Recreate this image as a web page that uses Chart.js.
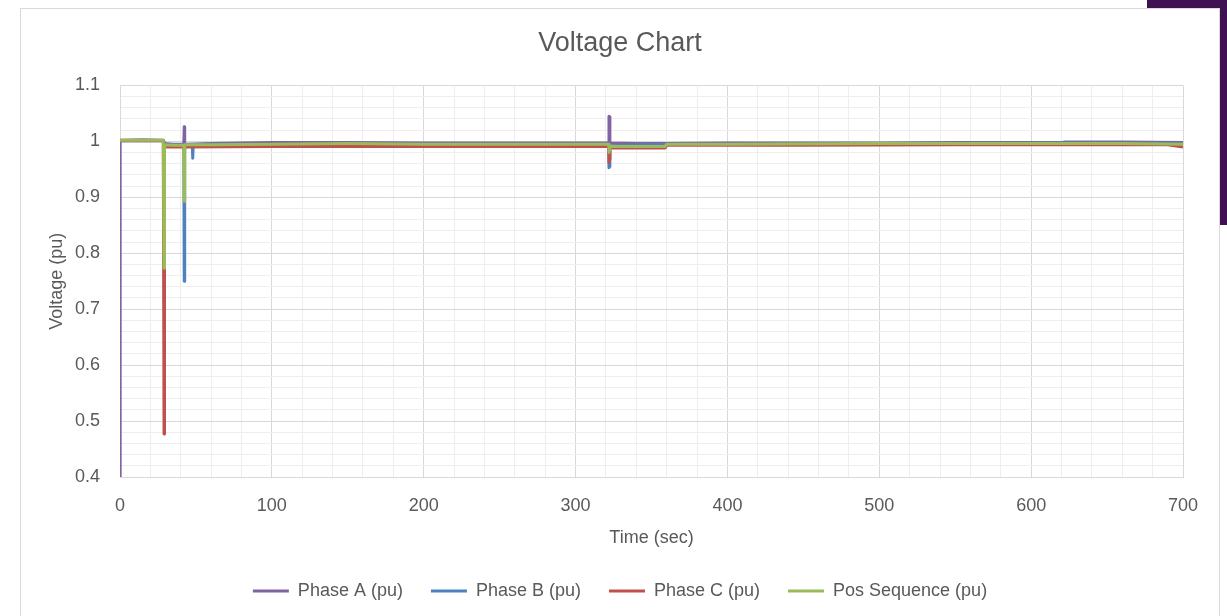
<!DOCTYPE html>
<html>
<head>
<meta charset="utf-8">
<script src="https://cdn.jsdelivr.net/npm/chart.js@4"></script>
<style>
  body { margin: 0; background: #fff; width: 1227px; height: 616px; overflow: hidden; position: relative; }
  #bg { position: absolute; left: 1147px; top: 0; width: 80px; height: 225px; background: #3f1153; }
  #box { position: absolute; left: 20px; top: 8px; width: 1200px; height: 620px; border: 1px solid #d9d9d9; background: #fff; box-sizing: border-box; }
  canvas { display: block; }
</style>
</head>
<body>
<div id="bg"></div>
<div id="box"><canvas id="myChart" width="1198" height="610"></canvas></div>
<script>
let labels = ['Phase A (pu)', 'Phase B (pu)', 'Phase C (pu)', 'Pos Sequence (pu)'];
let colorHex = ['#8064A2', '#4F81BD', '#C0504D', '#9BBB59'];

// time (sec) and voltage (pu)
let timeA = [0, 0.1, 15, 28.5, 29.5, 35, 42, 42.3, 42.6, 60, 100, 150, 200, 250, 300, 321.8, 322, 322.3, 322.6, 340, 360, 400, 450, 500, 550, 600, 621, 622, 660, 700];
let phaseA = [0.4, 1.002, 1.003, 1.002, 0.996, 0.995, 0.995, 1.026, 0.995, 0.996, 0.998, 0.998, 0.997, 0.997, 0.997, 0.997, 1.045, 1.044, 0.997, 0.996, 0.996, 0.997, 0.997, 0.997, 0.998, 0.998, 0.998, 0.999, 0.999, 0.998];

let timeB = [0, 28.5, 29.5, 42, 42.3, 42.6, 47.6, 47.9, 48.2, 60, 150, 250, 321.8, 322, 322.3, 322.6, 360, 450, 550, 621, 700];
let phaseB = [1.001, 1.001, 0.994, 0.994, 0.75, 0.994, 0.994, 0.970, 0.994, 0.995, 0.995, 0.995, 0.995, 0.953, 0.955, 0.992, 0.995, 0.995, 0.996, 0.997, 0.996];

let timeC = [0, 28.5, 29, 29.3, 42, 42.3, 42.6, 100, 200, 300, 321.8, 322, 322.3, 322.6, 340, 359, 360, 450, 550, 621, 690, 700];
let phaseC = [1.001, 1.001, 0.477, 0.99, 0.99, 0.985, 0.99, 0.991, 0.991, 0.991, 0.991, 0.962, 0.968, 0.988, 0.988, 0.988, 0.993, 0.993, 0.994, 0.994, 0.994, 0.99];

let timeP = [0, 28.5, 29, 29.3, 35, 42, 42.3, 42.6, 60, 100, 150, 200, 250, 300, 321.8, 322, 322.3, 322.6, 340, 359, 360, 400, 500, 600, 621, 660, 700];
let posSeq = [1.002, 1.002, 0.773, 0.994, 0.993, 0.993, 0.893, 0.994, 0.994, 0.995, 0.996, 0.995, 0.995, 0.995, 0.995, 0.98, 0.985, 0.991, 0.991, 0.991, 0.995, 0.995, 0.996, 0.996, 0.996, 0.996, 0.995];

let times = [timeA, timeB, timeC, timeP];
let values = [phaseA, phaseB, phaseC, posSeq];

let textColor = '#595959';
let font = 'Liberation Sans, Arial, sans-serif';

let datasets = labels.map((label, i) => ({
  label: label,
  data: times[i].map((t, j) => ({ x: t, y: values[i][j] })),
  borderColor: colorHex[i],
  backgroundColor: colorHex[i],
  borderWidth: 3,
  borderJoinStyle: 'round',
  pointRadius: 0,
  tension: 0,
  order: 3 - i
}));

function isMajor(v, step) {
  let r = Math.round(v / step);
  return Math.abs(v / step - r) < 1e-6;
}

let ctx = document.getElementById('myChart').getContext('2d');

let myChart = new Chart(ctx, {
  type: 'line',
  data: { datasets: datasets },
  options: {
    responsive: false,
    devicePixelRatio: 1,
    animation: false,
    layout: { padding: { left: 0, right: 0, top: 0, bottom: 9 } },
    plugins: {
      title: {
        display: true,
        text: 'Voltage Chart',
        color: textColor,
        font: { family: font, size: 27, weight: 'normal' },
        padding: { top: 18, bottom: 26 }
      },
      legend: {
        position: 'bottom',
        labels: {
          color: textColor,
          font: { family: font, size: 18 },
          boxWidth: 36,
          boxHeight: 3,
          padding: 28,
          sort: (a, b) => a.datasetIndex - b.datasetIndex,
          generateLabels: (chart) => {
            return Chart.defaults.plugins.legend.labels.generateLabels(chart).map((item) => {
              item.lineWidth = 0;
              item.fillStyle = item.strokeStyle;
              return item;
            });
          }
        }
      },
      tooltip: { enabled: false }
    },
    scales: {
      x: {
        type: 'linear',
        min: 0,
        max: 700,
        afterFit: (scale) => { scale.height = 77; },
        ticks: {
          stepSize: 20,
          autoSkip: false,
          maxRotation: 0,
          padding: 18,
          color: textColor,
          font: { family: font, size: 18 },
          callback: (v) => isMajor(v, 100) ? String(v) : ''
        },
        grid: {
          drawTicks: false,
          color: (c) => isMajor(c.tick.value, 100) ? '#d9d9d9' : '#eeeeee'
        },
        border: { color: '#d9d9d9' },
        title: {
          display: true,
          text: 'Time (sec)',
          color: textColor,
          font: { family: font, size: 18 },
          padding: 5
        }
      },
      y: {
        min: 0.4,
        max: 1.1,
        afterFit: (scale) => { scale.width = 99; },
        ticks: {
          stepSize: 0.02,
          autoSkip: false,
          padding: 20,
          color: textColor,
          font: { family: font, size: 18 },
          callback: (v) => isMajor(v, 0.1) ? String(Math.round(v * 10) / 10) : ''
        },
        grid: {
          drawTicks: false,
          color: (c) => isMajor(c.tick.value, 0.1) ? '#d9d9d9' : '#eeeeee'
        },
        border: { color: '#d9d9d9' },
        title: {
          display: true,
          text: 'Voltage (pu)',
          color: textColor,
          font: { family: font, size: 18 },
          padding: 25
        }
      },
      // empty right-hand space so the plot ends where the reference does
      yRight: {
        position: 'right',
        afterFit: (scale) => { scale.width = 36; },
        ticks: { display: false },
        grid: { display: false },
        border: { display: false }
      }
    }
  }
});
</script>
</body>
</html>
